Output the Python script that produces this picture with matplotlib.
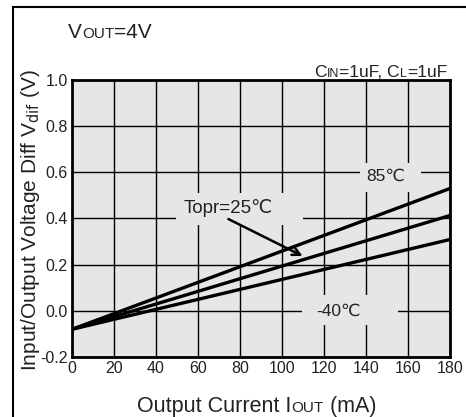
import matplotlib.pyplot as plt
import numpy as np
from matplotlib.patches import Rectangle

plt.rcParams['font.family'] = ['Liberation Sans', 'DejaVu Sans']

# output current (mA) and dropout voltage (V) at each temperature
iout = [0, 180]
vdif_85 = [-0.08, 0.53]
vdif_25 = [-0.08, 0.413]
vdif_m40 = [-0.08, 0.309]

xticks = [0, 20, 40, 60, 80, 100, 120, 140, 160, 180]
yticks = [-0.2, 0.0, 0.2, 0.4, 0.6, 0.8, 1.0]
bg = '#e6e6e6'

fig = plt.figure(figsize=(4.66, 4.17), dpi=100)
ax = fig.add_axes([72/466, 1-357/417, 378/466, 277/417])
ax.set_facecolor(bg)

ax.set_xlim(0, 180)
ax.set_ylim(-0.2, 1.0)
ax.set_xticks(xticks)
ax.set_yticks(yticks)
ax.set_xticklabels([str(t) for t in xticks], fontsize=11.5, color='#222222')
ax.set_yticklabels(['%.1f' % t for t in yticks], fontsize=11.5, color='#222222')
ax.tick_params(length=0, pad=3)
ax.grid(True, color='black', lw=1.0)
ax.set_axisbelow(True)
for s in ax.spines.values():
    s.set_linewidth(2)

# boxes hiding the grid behind the labels
for (x0, y0, w, h) in [(49.5, 0.373, 60.5, 0.138), (137, 0.516, 29, 0.125), (109.5, -0.061, 45.5, 0.13)]:
    ax.add_patch(Rectangle((x0, y0), w, h, facecolor=bg, edgecolor='none', zorder=1.5))

ax.plot(iout, vdif_85, color='black', lw=2.4, zorder=3)
ax.plot(iout, vdif_25, color='black', lw=2.4, zorder=3)
ax.plot(iout, vdif_m40, color='black', lw=2.4, zorder=3)

ax.text(149.5, 0.581, '85\u2103', fontsize=12.5, ha='center', va='center', color='#222222', zorder=4)
ax.text(126.7, -0.004, '-40\u2103', fontsize=12.5, ha='center', va='center', color='#222222', zorder=4)
ax.text(74.3, 0.446, 'Topr=25\u2103', fontsize=13.5, ha='center', va='center', color='#222222', zorder=4)
ax.annotate('', xy=(111, 0.232), xytext=(73.3, 0.403),
            arrowprops=dict(arrowstyle='->', color='black', lw=1.8, mutation_scale=14), zorder=4)

def chain(parts, x, y):
    # write text pieces one after another, small ones for the subscript style
    fig.text(x, y, parts[0][0], fontsize=parts[0][1], ha='left', va='baseline', color='#222222')
    for s, size in parts[1:]:
        prev = fig.texts[-1]
        fig.canvas.draw()
        bb = prev.get_window_extent(fig.canvas.get_renderer())
        fig.text(bb.x1 / fig.bbox.width, y, s, fontsize=size, color='#222222', ha='left', va='baseline')

chain([('V', 15), ('OUT', 11), ('=4V', 15)], 68/466, 1-38/417)

# top right capacitor note, right aligned
note = [('C', 12.5), ('IN', 9), ('=1uF, C', 12.5), ('L', 9), ('=1uF', 12.5)]
chain(note, 0.0, 1-77/417)
fig.canvas.draw()
last = fig.texts[-1].get_window_extent(fig.canvas.get_renderer()).x1
shift = (447 - last) / fig.bbox.width
for t in fig.texts[-5:]:
    px, py = t.get_position()
    t.set_position((px + shift, py))

chain([('Output Current I', 15.5), ('OUT', 11), (' (mA)', 15.5)], 137/466, 1-412/417)

fig.text(31/466, 1-220/417, 'Input/Output Voltage Diff V$_{\\mathrm{dif}}$ (V)', rotation=90,
         fontsize=15, ha='center', va='center', color='#222222')

fig.add_artist(plt.Line2D([13/466, 13/466], [0, 1-7/417], color='black', lw=1.5))
fig.add_artist(plt.Line2D([13/466, 1], [1-7/417, 1-7/417], color='black', lw=1.5))

fig.savefig('out.png', dpi=100)
